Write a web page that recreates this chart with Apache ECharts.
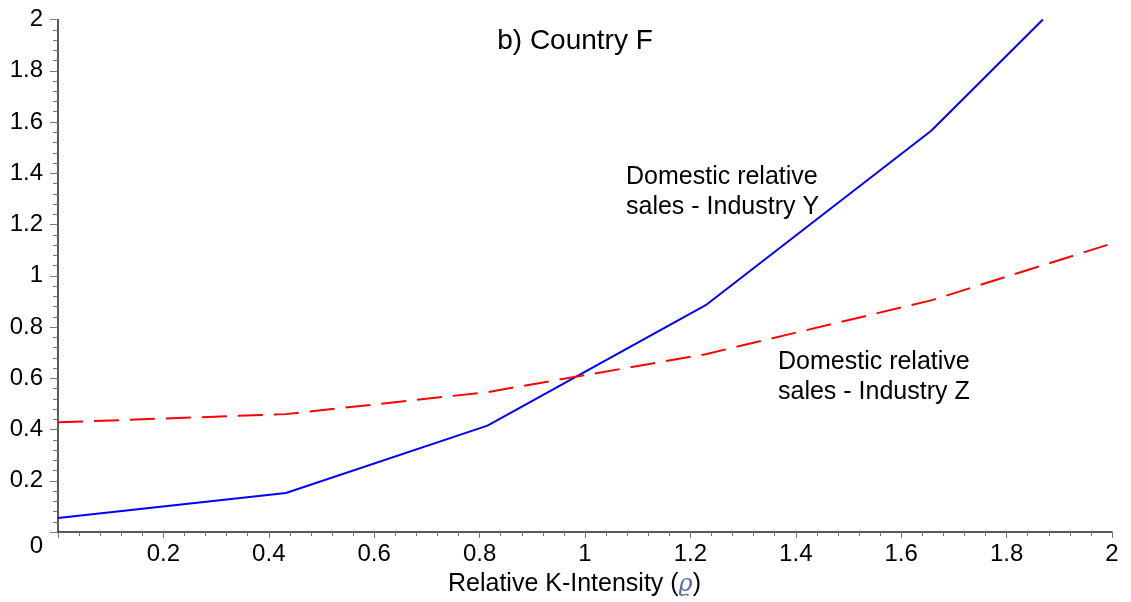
<!DOCTYPE html>
<html>
<head>
<meta charset="utf-8">
<title>b) Country F</title>
<script src="https://cdn.jsdelivr.net/npm/echarts@6/dist/echarts.min.js"></script>
<style>
  html, body { margin: 0; padding: 0; background: #fff; }
  #chart { width: 1131px; height: 602px; }
</style>
</head>
<body>
<div id="chart"></div>
<script>
// Relative K-intensity (rho) and domestic relative sales for each industry
const rhoY = [0, 0.4325, 0.815, 1.229, 1.657, 1.869];
const salesY = [0.055, 0.152, 0.415, 0.885, 1.566, 2.0];
const rhoZ = [0, 0.4325, 0.815, 1.229, 1.657, 2.0];
const salesZ = [0.428, 0.46, 0.546, 0.694, 0.904, 1.126];

const titleText = 'b) Country F';
const labelY = ['Domestic relative', 'sales - Industry Y'];
const labelZ = ['Domestic relative', 'sales - Industry Z'];

const font = '"Liberation Sans", Arial, Helvetica, sans-serif';

const pairs = (xs, ys) => xs.map((x, i) => [x, ys[i]]);

const chart = echarts.init(document.getElementById('chart'), null, { renderer: 'canvas' });

chart.setOption({
  animation: false,
  backgroundColor: '#ffffff',
  grid: { left: 58, right: 19, top: 19.5, bottom: 68.7, containLabel: false },
  xAxis: {
    type: 'value',
    min: 0, max: 2, interval: 0.2,
    name: 'Relative K-Intensity ({r|ϱ})',
    nameLocation: 'middle',
    nameGap: 40,
    nameTextStyle: {
      fontFamily: font, fontSize: 25, color: '#000',
      padding: [0, 21, 0, 0],
      rich: {
        r: { fontFamily: '"DejaVu Serif", serif', fontStyle: 'italic', fontSize: 24, color: '#5a6aa8' }
      }
    },
    axisLine: { show: true, lineStyle: { color: '#222', width: 1.5 } },
    axisTick: { show: true, inside: false, length: 6, lineStyle: { color: '#777', width: 1 } },
    minorTick: { show: true, splitNumber: 5, length: 4, lineStyle: { color: '#777', width: 1 } },
    splitLine: { show: false },
    axisLabel: {
      showMinLabel: false,
      margin: 10,
      fontFamily: font, fontSize: 24, color: '#000',
      formatter: v => String(+v.toFixed(2))
    }
  },
  yAxis: {
    type: 'value',
    min: 0, max: 2, interval: 0.2,
    axisLine: { show: true, lineStyle: { color: '#222', width: 1.5 } },
    axisTick: { show: true, inside: false, length: 8, lineStyle: { color: '#777', width: 1 } },
    minorTick: { show: true, splitNumber: 5, length: 5, lineStyle: { color: '#777', width: 1 } },
    splitLine: { show: false },
    axisLabel: {
      margin: 15,
      fontFamily: font, fontSize: 24, color: '#000',
      formatter: v => (v === 0 ? '{z|0}' : String(+v.toFixed(2))),
      rich: {
        z: { fontFamily: font, fontSize: 24, color: '#000', padding: [28, 0, 0, 0] }
      }
    }
  },
  series: [
    {
      name: 'Industry Y',
      type: 'line',
      data: pairs(rhoY, salesY),
      showSymbol: false,
      clip: true,
      lineStyle: { color: '#0000ff', width: 2 }
    },
    {
      name: 'Industry Z',
      type: 'line',
      data: pairs(rhoZ, salesZ),
      showSymbol: false,
      clip: true,
      lineStyle: { color: '#ff0000', width: 2, type: [25, 11] }
    }
  ],
  graphic: [
    {
      type: 'text', x: 575, y: 41,
      style: { text: titleText, fontFamily: font, fontSize: 28, fill: '#000', align: 'center', verticalAlign: 'middle' }
    },
    {
      type: 'text', x: 626, y: 162,
      style: { text: labelY.join('\n'), fontFamily: font, fontSize: 25, lineHeight: 30, fill: '#000', align: 'left', verticalAlign: 'top' }
    },
    {
      type: 'text', x: 778, y: 347,
      style: { text: labelZ.join('\n'), fontFamily: font, fontSize: 25, lineHeight: 30, fill: '#000', align: 'left', verticalAlign: 'top' }
    }
  ]
});
</script>
</body>
</html>
